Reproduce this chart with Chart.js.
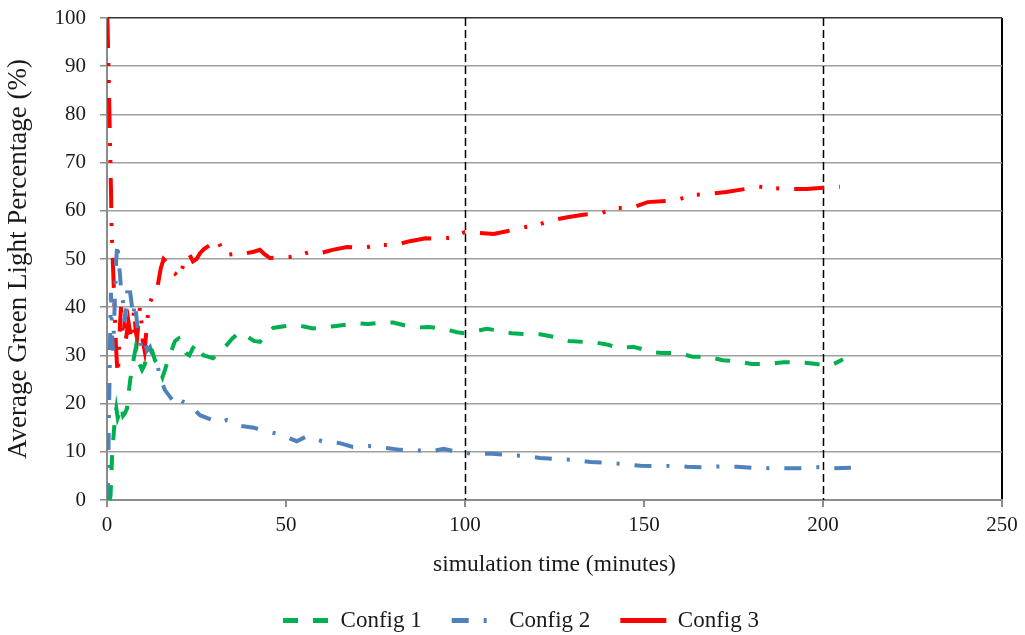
<!DOCTYPE html>
<html>
<head>
<meta charset="utf-8">
<script src="https://cdn.jsdelivr.net/npm/chart.js@4.4.1/dist/chart.umd.min.js"></script>
<style>
  html, body { margin: 0; padding: 0; background: #fff; }
  #wrap { position: relative; width: 1025px; height: 635px; }
</style>
</head>
<body>
<div id="wrap"><canvas id="chart"></canvas></div>
<script>
// data
const seriesNames = ["Config 1", "Config 2", "Config 3"];

const config1Times = [0.8, 1.0, 1.2, 1.4, 1.6, 1.9, 2.2, 2.6, 3.0, 3.5, 4.0, 4.5, 5.0, 5.6, 6.0, 6.5, 7.0, 7.5, 8.0, 8.5,
  9.2, 9.8, 10.5, 11.2, 11.8, 12.6, 13.4, 14.2, 14.8, 15.5, 16.2, 17, 18, 19, 20, 21, 22, 23, 24, 25,
  26, 27, 28, 29.6, 31, 33.5, 35, 37, 39, 41, 42.7, 44, 46.4, 49, 52, 55, 57.5, 60, 64, 67,
  69.8, 73, 76.8, 80, 83.8, 87, 90, 94, 97.8, 100, 103, 106, 109, 113, 117, 121, 125, 129, 133, 137,
  140, 143, 147, 150, 152, 155, 159.5, 163.7, 168, 172, 176, 180, 185, 189, 193, 197, 200, 201, 203, 205.6];
const config1Values = [0, 1, 5, 8.7, 11, 14, 17, 19, 17, 18, 19.5, 17.5, 18, 19, 22, 25, 27, 29.5, 31.5, 29,
  28, 27, 28, 30, 31.5, 31, 29, 28, 27, 25.5, 27, 29, 31, 33, 33.5, 32, 30.5, 30, 31.5, 32.5,
  31, 30, 29.8, 29.4, 30.5, 32.2, 33.5, 34.8, 34, 33, 32.8, 34, 35.7, 36, 36.3, 36, 35.6, 35.8, 36.1, 36.4,
  36.7, 36.5, 36.8, 36.8, 36.1, 35.8, 35.9, 35.5, 34.8, 34.6, 35, 35.5, 35.2, 34.6, 34.4, 34.4, 33.8, 33, 32.8, 32.6,
  32.2, 31.5, 31.8, 31.2, 30.7, 30.5, 30.5, 29.7, 29.7, 29, 28.8, 28.2, 28.2, 28.6, 28.6, 28.3, 28, 27.8, 28.2, 29.2];

const config2Times = [0.2, 0.3, 0.4, 0.5, 0.6, 0.7, 0.8, 0.9, 1.0, 1.1, 1.3, 1.5, 1.7, 2.0, 2.3, 2.6, 2.9, 3.2, 3.6, 4.0,
  4.5, 4.9, 5.4, 5.8, 6.4, 7.0, 7.3, 7.8, 8.5, 9.2, 9.8, 10.5, 11.2, 12, 12.7, 13.4, 14.2, 15, 16.2, 17.5,
  19, 19.8, 21, 22.3, 24, 26, 28, 31.5, 33.5, 37, 41, 44, 48, 53, 56, 60, 65, 68.7, 73, 78,
  82, 86, 90, 94, 99, 103, 107.5, 112.6, 117, 121, 126, 131, 135, 140, 144, 149, 153.6, 158, 162, 167,
  172, 176, 180, 185, 189, 194, 198.6, 203, 207.8];
const config2Values = [0, 5, 10, 15, 20, 25, 30, 35, 40, 43, 38, 33, 31, 37, 44, 50, 53.5, 50, 47, 43,
  41, 37, 40, 45, 43.5, 40, 38, 41, 36, 33, 31.5, 33, 31, 31.7, 30, 29, 27.6, 25, 22.8, 21.5,
  20, 21, 20.5, 20, 19, 17.6, 17, 16, 16.6, 15.4, 15, 14.3, 13.7, 12.2, 13.3, 12.2, 11.8, 11, 11.2, 10.8,
  10.4, 10.4, 10, 10.6, 9.8, 9.6, 9.6, 9.3, 9.1, 8.7, 8.5, 8.3, 7.9, 7.7, 7.5, 7.1, 7.0, 7.1, 6.9, 6.8,
  7, 6.9, 6.7, 6.6, 6.6, 6.6, 6.8, 6.6, 6.7];

const config3Times = [0.1, 0.2, 0.3, 0.4, 0.5, 0.6, 0.7, 0.8, 0.9, 1.0, 1.1, 1.2, 1.3, 1.5, 1.7, 1.9, 2.1, 2.3, 2.5, 2.8,
  3.0, 3.3, 3.6, 3.9, 4.2, 4.5, 4.8, 5.2, 5.6, 6.0, 6.4, 6.8, 7.2, 7.6, 8.0, 8.4, 8.8, 9.2, 9.6, 10.0,
  10.5, 11.0, 11.5, 12.0, 12.6, 13.3, 14.2, 15.0, 15.8, 16.5, 17.2, 18, 19, 20, 21, 22, 23, 24, 25, 26,
  27, 28, 29, 30, 31, 32, 33, 35, 37, 39, 41, 42.7, 44, 45.5, 48, 51, 54, 56.7, 60, 63,
  67, 70.7, 74, 77, 81, 84.6, 89, 92, 96, 100, 104, 108, 112, 116, 120, 124, 129, 133, 138, 142,
  146.6, 151, 155, 159, 163.7, 168.4, 173, 178, 182, 186, 191, 195.5, 200, 204.7];
const config3Values = [100, 97, 93, 90, 87, 83, 79, 76, 72, 68, 65, 60, 56, 52, 48, 44, 40, 36, 32, 28,
  26, 30, 36, 40, 37, 34, 36, 33, 35, 37, 35, 33, 37, 39.5, 35, 33.5, 37, 40, 37, 33,
  31, 35, 39, 41, 42, 43, 44.6, 48, 50, 49.5, 48, 47.5, 47, 46, 48, 50.5, 51, 49.5, 50, 51.2,
  52, 52.5, 53, 53.5, 54, 52, 50.8, 51, 50.8, 51.2, 51.5, 51.9, 51, 50.2, 50.3, 50.4, 50.8, 51.5, 51.3, 51.9,
  52.5, 52.3, 52.6, 52.9, 53, 53.7, 54.3, 54.2, 54.4, 55.6, 55.4, 55.2, 55.8, 56.5, 57, 58, 58.7, 59.2, 59.5, 60.6,
  60.6, 61.8, 62, 62.2, 63.3, 63.5, 63.9, 64.5, 65, 64.7, 64.5, 64.5, 64.8, 65];

// reference lines drawn on the time axis
const markerTimes = [100, 200];

const FONT = "'Liberation Serif', 'Times New Roman', serif";
const PLOT_TOP = 18;
const PLOT_BOTTOM = 500;
const PAD_BOTTOM = -7;
const LEGEND_SHIFT = 20;
const legendDashes = [[15, 15], [17, 15, 3, 15], []];

function zip(xs, ys) {
  const out = [];
  for (let i = 0; i < Math.min(xs.length, ys.length); i++) out.push({ x: xs[i], y: ys[i] });
  return out;
}

// dashed vertical markers + dashed legend samples
const extras = {
  id: 'extras',
  afterLayout(chart) {
    if (chart.legend) {
      chart.legend.left += LEGEND_SHIFT;
      chart.legend.right += LEGEND_SHIFT;
    }
  },
  beforeDatasetsDraw(chart) {
    const { ctx, chartArea, scales } = chart;
    ctx.save();
    ctx.strokeStyle = '#000';
    ctx.lineWidth = 1.5;
    ctx.setLineDash([8, 4]);
    markerTimes.forEach(t => {
      const x = Math.round(scales.x.getPixelForValue(t)) + 0.5;
      ctx.beginPath();
      ctx.moveTo(x, chartArea.top);
      ctx.lineTo(x, chartArea.bottom);
      ctx.stroke();
    });
    ctx.restore();
  },
  afterDraw(chart) {
    const legend = chart.legend;
    if (!legend || !legend.legendHitBoxes) return;
    const { ctx } = chart;
    const boxW = legend.options.labels.boxWidth;
    legend.legendHitBoxes.forEach((hb, i) => {
      const ds = chart.data.datasets[i];
      const y = hb.top + hb.height / 2;
      ctx.save();
      ctx.strokeStyle = ds.borderColor;
      ctx.lineWidth = 5;
      ctx.setLineDash(legendDashes[i] || []);
      ctx.beginPath();
      ctx.moveTo(hb.left, y);
      ctx.lineTo(hb.left + boxW, y);
      ctx.stroke();
      ctx.restore();
    });
  }
};

new Chart(document.getElementById('chart'), {
  type: 'line',
  data: {
    datasets: [
      {
        label: seriesNames[0],
        data: zip(config1Times, config1Values),
        borderColor: '#00b050',
        borderWidth: 4,
        borderDash: [15, 15],
        pointRadius: 0,
        tension: 0
      },
      {
        label: seriesNames[1],
        data: zip(config2Times, config2Values),
        borderColor: '#4f81bd',
        borderWidth: 4,
        borderDash: [17, 15, 3, 15],
        pointRadius: 0,
        tension: 0
      },
      {
        label: seriesNames[2],
        data: zip(config3Times, config3Values),
        borderColor: '#ff0000',
        borderWidth: 4,
        borderDash: [30, 15, 3, 14, 3, 15],
        pointRadius: 0,
        tension: 0
      }
    ]
  },
  options: {
    responsive: true,
    maintainAspectRatio: false,
    animation: false,
    layout: { padding: { top: 0, right: 23, bottom: PAD_BOTTOM, left: 0 } },
    plugins: {
      tooltip: { enabled: false },
      legend: {
        position: 'bottom',
        labels: {
          boxWidth: 46,
          boxHeight: 5,
          padding: 30,
          color: '#1a1a1a',
          font: { family: FONT, size: 23 },
          generateLabels(chart) {
            return chart.data.datasets.map((ds, i) => ({
              text: ds.label,
              fillStyle: 'rgba(0,0,0,0)',
              strokeStyle: 'rgba(0,0,0,0)',
              lineWidth: 0,
              hidden: false,
              datasetIndex: i,
              fontColor: '#1a1a1a'
            }));
          }
        }
      }
    },
    scales: {
      x: {
        type: 'linear',
        min: 0,
        max: 250,
        ticks: { stepSize: 50, color: '#1a1a1a', padding: 6, font: { family: FONT, size: 21 } },
        grid: {
          color: c => (c.tick && c.tick.value === 250 ? '#000' : 'rgba(0,0,0,0)'),
          lineWidth: 2,
          tickColor: '#8c8c8c',
          tickLength: 7
        },
        border: { color: '#8c8c8c', width: 2 },
        title: {
          display: true,
          text: 'simulation time (minutes)',
          color: '#1a1a1a',
          font: { family: FONT, size: 23.5 },
          padding: { top: 4, bottom: 0 }
        },
        afterFit: s => {
          const lg = s.chart.legend;
          s.height = s.chart.height - PLOT_BOTTOM - (lg ? lg.height : 0) - PAD_BOTTOM;
        }
      },
      y: {
        min: 0,
        max: 100,
        ticks: { stepSize: 10, color: '#1a1a1a', padding: 14, font: { family: FONT, size: 21 } },
        grid: {
          color: c => (c.tick && c.tick.value === 100 ? '#333' : '#a0a0a0'),
          lineWidth: 1.5,
          tickColor: '#8c8c8c',
          tickLength: 7
        },
        border: { color: '#8c8c8c', width: 2 },
        title: {
          display: true,
          text: 'Average Green Light Percentage (%)',
          color: '#1a1a1a',
          font: { family: FONT, size: 27 },
          padding: { top: 3, bottom: 0 }
        },
        afterFit: s => {
          s.width = 107;
          s.paddingTop = PLOT_TOP;
          s.paddingBottom = 0;
        }
      }
    }
  },
  plugins: [extras]
});
</script>
</body>
</html>
